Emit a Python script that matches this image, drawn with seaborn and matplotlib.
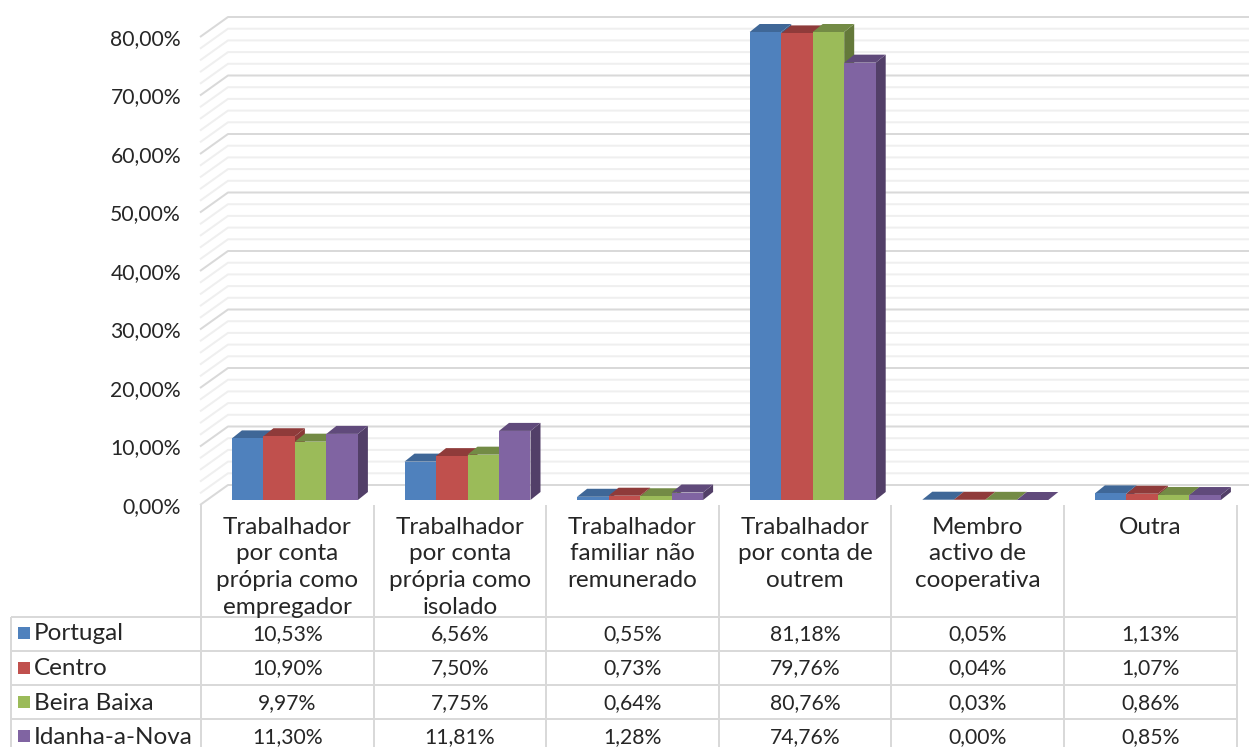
import pandas as pd
import matplotlib
matplotlib.use('Agg')
import matplotlib.pyplot as plt
import seaborn as sns
from matplotlib.lines import Line2D
from matplotlib.patches import Polygon, Rectangle
from matplotlib.transforms import IdentityTransform

categories = ['Trabalhador\npor conta\nprópria como\nempregador',
              'Trabalhador\npor conta\nprópria como\nisolado',
              'Trabalhador\nfamiliar não\nremunerado',
              'Trabalhador\npor conta de\noutrem',
              'Membro\nactivo de\ncooperativa',
              'Outra']
series_names = ['Portugal', 'Centro', 'Beira Baixa', 'Idanha-a-Nova']
portugal = [10.53, 6.56, 0.55, 81.18, 0.05, 1.13]
centro = [10.90, 7.50, 0.73, 79.76, 0.04, 1.07]
beira_baixa = [9.97, 7.75, 0.64, 80.76, 0.03, 0.86]
idanha = [11.30, 11.81, 1.28, 74.76, 0.00, 0.85]
y_ticks = [0, 10, 20, 30, 40, 50, 60, 70, 80]

front_colors = ['#4F81BD', '#C0504D', '#9BBB59', '#8064A2']
top_colors = ['#3F6797', '#8F3B3A', '#738B45', '#604A7B']
side_colors = ['#3A5F8B', '#8A3A38', '#64793A', '#523F68']
font = 'Lato'
W, H = 1249, 747
GRID = '#D9D9D9'
GRID_MINOR = '#EFEFEF'
TEXT = '#262626'
FS_NUM = 15.2
FS_LABEL = 17.5
DEPTH_X, DEPTH_Y = 10, 8


def px(x, y):
    # image pixels (origin top left) to figure fraction
    return x / W, 1 - y / H


def img_line(ax, xs, ys, color, width, zorder=1):
    line = Line2D(xs, [H - y for y in ys], color=color, lw=width * 0.72,
                  transform=IdentityTransform(), clip_on=False, zorder=zorder,
                  solid_capstyle='butt')
    ax.add_line(line)


def put_text(fig, x, y, s, size, ha='center'):
    fx, fy = px(x, y)
    fig.text(fx, fy, s, ha=ha, va='center', fontsize=size, color=TEXT, family=font)


sns.set_theme(style='white')
plt.rcParams['font.family'] = [font, 'DejaVu Sans']

rows = []
for name, values in zip(series_names, [portugal, centro, beira_baixa, idanha]):
    for cat, v in zip(categories, values):
        rows.append({'categoria': cat, 'serie': name, 'valor': v})
df = pd.DataFrame(rows)

fig = plt.figure(figsize=(W / 100, H / 100), dpi=100)
# bar plane: 0% at y=500, 80% at y=32, cells 172.6 px wide shifted by the depth
ax = fig.add_axes([208.6 / W, 1 - 500 / H, 1035.6 / W, 468 / H])
ax.patch.set_visible(False)
sns.barplot(data=df, x='categoria', y='valor', hue='serie', palette=front_colors,
            saturation=1, width=0.73, gap=0, legend=False, ax=ax, zorder=3,
            linewidth=0, edgecolor='none')
ax.set_xlim(-0.5, 5.5)
ax.set_ylim(0, 80)
ax.set_xlabel('')
ax.set_ylabel('')
ax.set_xticks([])
ax.set_yticks([])
sns.despine(ax=ax, left=True, bottom=True)

# 3d walls
for v in range(0, 81, 2):
    base = H - ax.transData.transform((0, v))[1]
    major = v in y_ticks
    color = GRID if major else GRID_MINOR
    img_line(ax, [200, 228, 1249], [base + 5, base - 15, base - 15], color, 2)

# 3d faces of the bars
for i, container in enumerate(ax.containers):
    for bar in container:
        x0 = bar.get_x()
        x1 = x0 + bar.get_width()
        h = min(bar.get_height(), 80)
        (ax0, ay0), (ax1, ay1) = ax.transData.transform([(x0, 0), (x1, h)])
        side = [(ax1, ay0), (ax1 + DEPTH_X, ay0 + DEPTH_Y),
                (ax1 + DEPTH_X, ay1 + DEPTH_Y), (ax1, ay1)]
        top = [(ax0, ay1), (ax1, ay1), (ax1 + DEPTH_X, ay1 + DEPTH_Y),
               (ax0 + DEPTH_X, ay1 + DEPTH_Y)]
        z = 3 + i
        ax.add_patch(Polygon(side, closed=True, fc=side_colors[i], ec='none',
                             transform=IdentityTransform(), clip_on=False, zorder=z))
        ax.add_patch(Polygon(top, closed=True, fc=top_colors[i], ec='none',
                             transform=IdentityTransform(), clip_on=False, zorder=z))
        bar.set_zorder(z + 0.5)

# y tick labels sit on the front edge of the floor
for v in y_ticks:
    y = H - ax.transData.transform((0, v))[1] + 7
    put_text(fig, 181, y, f'{v:.2f}%'.replace('.', ','), FS_NUM, ha='right')

# data table below the chart
cols = [201 + 172.6 * i for i in range(7)]
row_lines = [617, 651, 685, 719]
row_centers = [634, 668.5, 703, 737]
for x in cols:
    img_line(ax, [x, x], [505, H], GRID, 2)
img_line(ax, [11, 11], [617, H], GRID, 2)
for y in row_lines:
    img_line(ax, [11, cols[-1]], [y, y], GRID, 2)

for i, cat in enumerate(categories):
    center = (cols[i] + cols[i + 1]) / 2
    for j, part in enumerate(cat.split('\n')):
        put_text(fig, center, 527 + 26.7 * j, part, FS_LABEL)

all_values = [portugal, centro, beira_baixa, idanha]
for r, name in enumerate(series_names):
    y = row_centers[r]
    ax.add_patch(Rectangle((18, H - y + 1 - 6), 12, 12, fc=front_colors[r], ec='none',
                           transform=IdentityTransform(), clip_on=False))
    put_text(fig, 34, y, name, FS_LABEL, ha='left')
    for c, v in enumerate(all_values[r]):
        put_text(fig, (cols[c] + cols[c + 1]) / 2, y, f'{v:.2f}%'.replace('.', ','), FS_NUM)

fig.savefig('out.png', dpi=100)
